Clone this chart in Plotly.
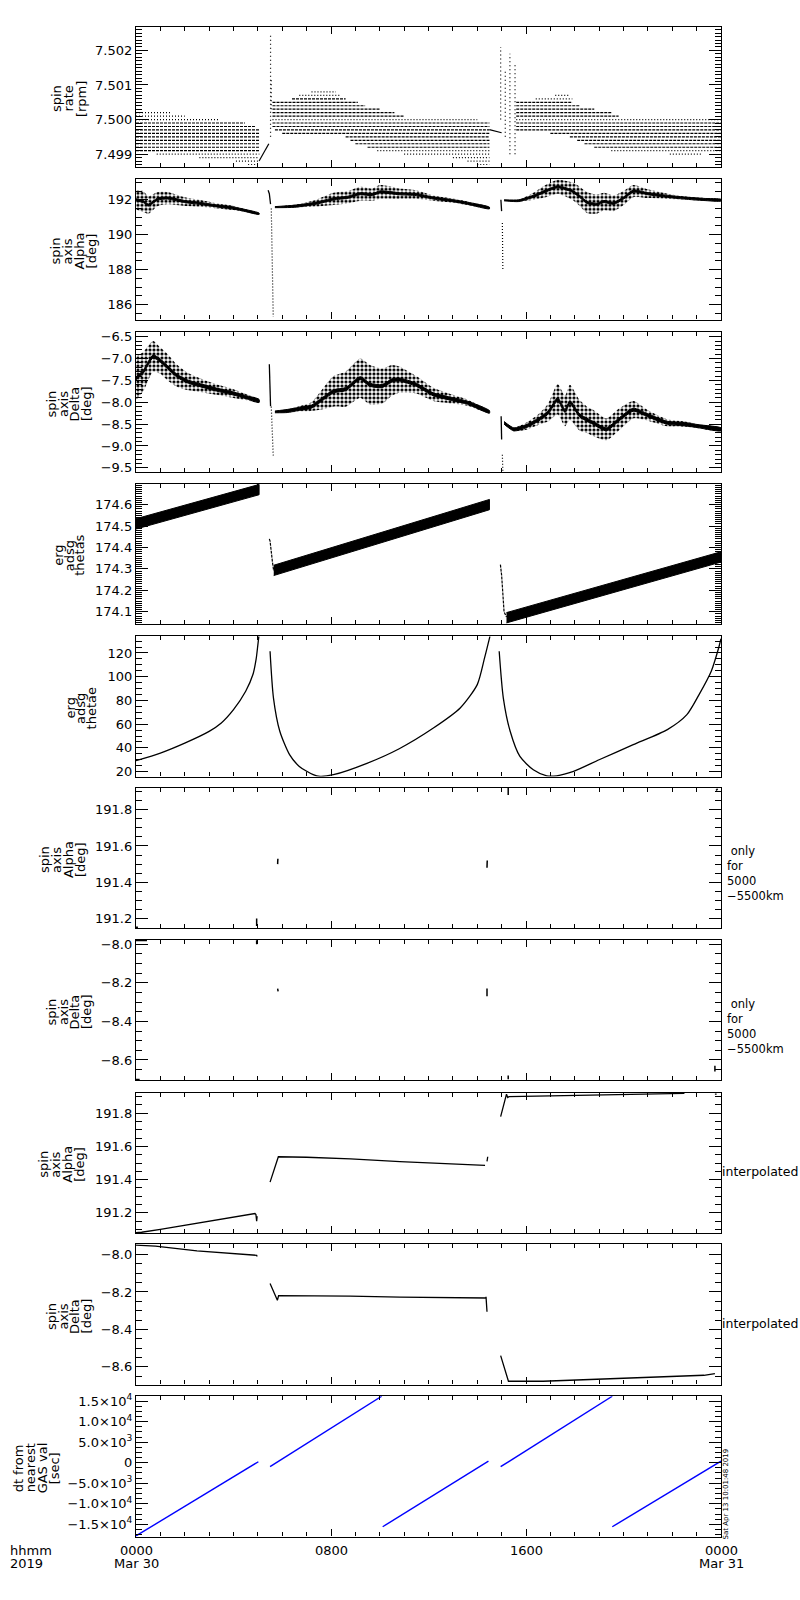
import plotly.graph_objects as go

# ======================= DATA =======================
# time axis in hours from 2019-03-30 00:00
# --- panel 1: spin rate [rpm], quantised rows: level, start, end, style (d dense / s sparse)
rate_lvl = [7.5002, 7.5001, 7.5000, 7.4999, 7.4998, 7.4997, 7.4996, 7.4995, 7.4994, 7.4993,
            7.4992, 7.4991, 7.4990, 7.4989, 7.4988, 7.4987,
            7.5008, 7.5007, 7.5006, 7.5005, 7.5004, 7.5003, 7.5002, 7.5001, 7.5000, 7.4999,
            7.4998, 7.4997, 7.4996, 7.4995, 7.4994, 7.4993, 7.4992, 7.4991, 7.4990, 7.4989,
            7.4988, 7.4987,
            7.5007, 7.5006, 7.5005, 7.5004, 7.5003, 7.5002, 7.5001, 7.5000, 7.4999, 7.4998,
            7.4997, 7.4996, 7.4995, 7.4994, 7.4993, 7.4992, 7.4991, 7.4990]
rate_t0 = [0.0, 0.0, 0.0, 0.0, 0.0, 0.0, 0.0, 0.0, 0.0, 0.0,
           0.0, 0.0, 0.85, 2.6, 4.1, 4.6,
           7.2, 6.7, 6.4, 5.6, 5.6, 5.6, 5.6, 5.6, 5.6, 5.6,
           5.6, 5.7, 6.0, 8.6, 8.8, 9.0, 9.5, 9.9, 11.0, 13.0,
           13.6, 14.0,
           17.2, 16.4, 15.6, 15.6, 15.6, 15.6, 15.6, 15.6, 15.6, 15.6,
           15.6, 17.0, 17.8, 18.1, 18.4, 18.8, 19.5, 21.9]
rate_t1 = [1.4, 2.0, 3.4, 4.47, 4.88, 5.06, 5.06, 5.06, 5.06, 5.06,
           5.06, 5.06, 5.06, 5.0, 5.0, 5.0,
           8.2, 8.4, 8.6, 9.1, 9.4, 10.0, 10.6, 11.0, 14.0, 14.5,
           14.5, 14.5, 14.5, 14.5, 14.5, 14.5, 14.5, 14.5, 14.5, 14.5,
           14.5, 14.5,
           17.8, 17.9, 17.9, 18.2, 18.8, 19.5, 19.8, 24.0, 24.0, 24.0,
           24.0, 24.0, 24.0, 24.0, 24.0, 24.0, 24.0, 23.2]
rate_sty = ["s", "s", "s", "d", "d", "d", "d", "d", "d", "d",
            "d", "d", "s", "s", "s", "s",
            "s", "s", "d", "d", "d", "d", "d", "d", "s", "d",
            "d", "d", "d", "d", "d", "d", "d", "s", "s", "s",
            "s", "s",
            "s", "s", "d", "d", "d", "d", "d", "s", "d", "d",
            "d", "d", "d", "d", "d", "d", "s", "s"]
# isolated dotted columns (spin-up spikes): time, low, high
rate_col_t = [5.52, 5.55, 14.96, 15.15, 15.34, 15.55]
rate_col_lo = [7.4995, 7.5003, 7.5000, 7.4995, 7.4990, 7.4990]
rate_col_hi = [7.5025, 7.5012, 7.5021, 7.5014, 7.5019, 7.5016]
# short solid connecting ramps
rate_ramp_t = [[5.05, 5.45], [14.5, 15.0]]
rate_ramp_v = [[7.4988, 7.4993], [7.49971, 7.49962]]

# --- panel 2: spin axis alpha [deg]: centre and scatter half-width per segment
alpha_t = [[0.0, 0.3, 0.5, 0.9, 1.3, 2.0, 2.6, 3.3, 4.0, 4.5, 5.05],
           [5.7, 6.5, 7.4, 8.1, 8.7, 9.2, 9.7, 10.0, 10.5, 10.8, 11.5, 12.2, 13.0, 13.6, 14.5],
           [15.1, 15.7, 16.3, 16.8, 17.3, 17.6, 17.9, 18.2, 18.5, 18.9, 19.2, 19.6, 20.0,
            20.4, 21.0, 21.8, 22.5, 23.3, 24.0]]
alpha_c = [[192.0, 191.9, 191.7, 192.05, 192.1, 191.9, 191.8, 191.65, 191.53, 191.38, 191.2],
           [191.58, 191.63, 191.81, 192.05, 192.15, 192.35, 192.3, 192.45, 192.4, 192.35,
            192.3, 192.1, 191.95, 191.8, 191.53],
           [191.97, 191.95, 192.2, 192.5, 192.75, 192.65, 192.5, 192.2, 191.85, 191.75,
            191.9, 191.8, 192.1, 192.5, 192.35, 192.2, 192.1, 192.02, 191.98]]
alpha_s = [[0.55, 0.6, 0.5, 0.4, 0.35, 0.25, 0.2, 0.15, 0.12, 0.08, 0.04],
           [0.03, 0.08, 0.2, 0.35, 0.35, 0.4, 0.35, 0.4, 0.35, 0.3, 0.25, 0.15, 0.12, 0.1, 0.05],
           [0.03, 0.05, 0.2, 0.35, 0.4, 0.45, 0.5, 0.55, 0.6, 0.55, 0.5, 0.45, 0.4, 0.35,
            0.25, 0.15, 0.1, 0.08, 0.05]]
alpha_jump_t = [[5.42, 5.47, 5.52], [14.97, 15.0]]
alpha_jump_v = [[192.55, 192.35, 191.75], [192.0, 191.35]]
alpha_drop_t = [[5.55, 5.63], [15.03, 15.05]]
alpha_drop_v = [[191.5, 185.3], [190.67, 188.0]]

# --- panel 3: spin axis delta [deg]
delta_t = [[0.0, 0.3, 0.7, 1.0, 1.3, 1.7, 2.1, 2.7, 3.3, 4.0, 4.5, 5.05],
           [5.7, 6.2, 6.7, 7.2, 7.55, 8.1, 8.6, 9.2, 9.6, 10.1, 10.5, 10.8, 11.5, 12.2, 13.0,
            13.6, 14.5],
           [15.1, 15.5, 16.0, 16.5, 16.9, 17.3, 17.6, 17.8, 18.2, 18.5, 18.75, 19.3, 19.8,
            20.4, 21.0, 21.8, 22.5, 23.1, 24.0]]
delta_c = [[-7.45, -7.3, -6.95, -7.05, -7.2, -7.4, -7.52, -7.62, -7.71, -7.8, -7.88, -7.97],
           [-8.22, -8.2, -8.15, -8.1, -7.97, -7.75, -7.7, -7.45, -7.6, -7.63, -7.5, -7.48,
            -7.6, -7.82, -7.93, -8.01, -8.22],
           [-8.47, -8.62, -8.55, -8.4, -8.24, -7.93, -8.2, -8.0, -8.3, -8.4, -8.47, -8.62,
            -8.4, -8.17, -8.3, -8.47, -8.5, -8.55, -8.62]]
delta_s = [[0.5, 0.45, 0.35, 0.3, 0.3, 0.25, 0.2, 0.15, 0.12, 0.1, 0.07, 0.04],
           [0.02, 0.04, 0.06, 0.1, 0.2, 0.35, 0.4, 0.45, 0.45, 0.4, 0.35, 0.3, 0.2, 0.15,
            0.1, 0.07, 0.03],
           [0.03, 0.04, 0.08, 0.12, 0.2, 0.35, 0.35, 0.4, 0.35, 0.3, 0.3, 0.25, 0.25, 0.2,
            0.12, 0.08, 0.06, 0.05, 0.04]]
delta_jump_t = [[5.47, 5.52], [14.98, 15.0]]
delta_jump_v = [[-7.13, -8.09], [-8.32, -8.85]]
delta_drop_t = [[5.55, 5.63], [15.03, 15.05]]
delta_drop_v = [[-8.1, -9.22], [-9.2, -9.57]]

# --- panel 4: erg adsg thetas (oscillating band): centre per segment, half-width
thetas_t = [[0.0, 5.05], [5.65, 14.5], [15.2, 24.0]]
thetas_c = [[174.51, 174.67], [174.293, 174.60], [174.072, 174.356]]
thetas_hw = 0.024
thetas_jump_t = [[5.47, 5.5, 5.6, 5.65], [14.95, 15.0, 15.1, 15.2]]
thetas_jump_v = [[174.44, 174.43, 174.33, 174.29], [174.32, 174.27, 174.1, 174.075]]

# --- panel 5: erg adsg thetae
thetae_t = [[0.0, 1.0, 2.0, 3.0, 3.5, 4.0, 4.5, 4.8, 4.93, 5.0, 5.04],
            [5.5, 5.64, 5.9, 6.3, 6.7, 7.27, 7.55, 8.1, 9.5, 10.8, 12.2, 13.3, 14.0, 14.3, 14.52],
            [14.9, 15.07, 15.35, 15.75, 16.3, 16.85, 17.26, 17.95, 19.0, 20.4, 21.8, 22.6,
             23.1, 23.6, 23.9, 24.0]]
thetae_v = [[29.2, 35.6, 44.0, 53.9, 61.0, 72.2, 87.7, 102.0, 115.0, 127.0, 134.0],
            [121.4, 82.0, 54.0, 34.3, 24.4, 17.4, 16.0, 17.4, 27.2, 39.3, 56.7, 73.6, 93.3,
             115.8, 134.0],
            [121.4, 82.0, 54.0, 32.8, 21.6, 16.5, 16.5, 20.2, 30.0, 42.7, 55.4, 68.0, 84.9,
             104.6, 124.0, 132.0]]

# --- panel 6: alpha only for 5000-5500 km (tiny fragments: t0, v0, t1, v1)
a55_t0 = [0.0, 4.95, 5.81, 14.40, 15.27, 23.80]
a55_v0 = [191.152, 191.16, 191.50, 191.48, 191.88, 191.905]
a55_t1 = [0.08, 4.95, 5.82, 14.41, 15.27, 23.86]
a55_v1 = [191.152, 191.20, 191.53, 191.52, 191.92, 191.915]

# --- panel 7: delta only for 5000-5500 km
d55_t0 = [0.0, 4.95, 5.81, 14.40, 15.27, 23.75, 0.0]
d55_v0 = [-7.981, -7.98, -8.23, -8.23, -8.68, -8.63, -8.701]
d55_t1 = [0.45, 4.95, 5.83, 14.40, 15.27, 23.75, 0.15]
d55_v1 = [-7.981, -8.00, -8.245, -8.27, -8.70, -8.66, -8.701]

# --- panel 8: alpha interpolated
ai_t = [[0.0, 0.23, 1.0, 2.0, 3.0, 4.0, 4.88, 4.92, 4.95, 4.97],
        [5.5, 5.84, 7.0, 8.8, 10.83, 13.0, 14.32],
        [14.40, 14.43],
        [14.96, 15.2, 15.25, 15.3, 17.0, 19.2, 22.5],
        [23.75, 23.82]]
ai_v = [[191.08, 191.083, 191.10, 191.125, 191.15, 191.175, 191.196, 191.19, 191.15, 191.18],
        [191.385, 191.538, 191.535, 191.525, 191.508, 191.495, 191.486],
        [191.51, 191.538],
        [191.78, 191.915, 191.895, 191.90, 191.905, 191.912, 191.92],
        [191.915, 191.915]]

# --- panel 9: delta interpolated
di_t = [[0.0, 0.8, 2.5, 4.95, 4.97],
        [5.5, 5.8, 5.85, 8.78, 10.83, 13.3, 14.36, 14.36, 14.4],
        [14.96, 15.28, 16.7, 18.35, 20.0, 21.6, 23.3, 23.75]]
di_v = [[-7.95, -7.955, -7.98, -8.004, -8.01],
        [-8.155, -8.244, -8.22, -8.222, -8.228, -8.232, -8.232, -8.226, -8.306],
        [-8.54, -8.677, -8.677, -8.668, -8.659, -8.654, -8.645, -8.636]]

# --- panel 10: dt from nearest GAS val [sec] (straight segments)
dt_t0 = [0.0, 5.5, 10.12, 14.96, 19.54]
dt_t1 = [5.02, 10.08, 14.46, 19.54, 24.0]
dt_v0 = [-17830, -970, -15600, -970, -15600]
dt_v1 = [240, 16200, 380, 16200, 380]

# tick labels
x_tickvals = [0, 8, 16, 24]
x_ticklab1 = ["0000", "0800", "1600", "0000"]
x_ticklab2 = ["Mar 30", "", "", "Mar 31"]
dt_tickvals = [15000, 10000, 5000, 0, -5000, -10000, -15000]
dt_ticktext = ["1.5×10<sup>4</sup>", "1.0×10<sup>4</sup>", "5.0×10<sup>3</sup>", "0",
               "−5.0×10<sup>3</sup>", "−1.0×10<sup>4</sup>", "−1.5×10<sup>4</sup>"]
panel_titles = [["spin", "rate", "[rpm]"],
                ["spin", "axis", "Alpha", "[deg]"],
                ["spin", "axis", "Delta", "[deg]"],
                ["erg", "adsg", "thetas"],
                ["erg", "adsg", "thetae"],
                ["spin", "axis", "Alpha", "[deg]"],
                ["spin", "axis", "Delta", "[deg]"],
                ["spin", "axis", "Alpha", "[deg]"],
                ["spin", "axis", "Delta", "[deg]"],
                ["dt from", "nearest", "GAS val", "[sec]"]]
right_notes = [None, None, None, None, None,
               [" only", "for", "5000", "−5500km"],
               [" only", "for", "5000", "−5500km"],
               ["interpolated"], ["interpolated"], None]

# ======================= LAYOUT CONSTANTS =======================
W, H = 800, 1600
X0, X1 = 136, 721
TOPS = [23, 176, 329.3, 481.7, 635, 787.3, 940, 1093.3, 1245.7, 1398.3]
PH = 141
FONT = "DejaVu Sans"
YR = [[7.49862, 7.50268], [185.13, 193.18], [-9.60, -6.39], [174.043, 174.698],
      [15.8, 134.1], [191.147, 191.92], [-8.705, -7.978], [191.079, 191.925],
      [-8.695, -7.945], [-17990, 16216]]
YT = [dict(tick0=7.499, dtick=0.001, tickformat=".3f", minor_dtick=0.0001),
      dict(tick0=186, dtick=2, tickformat="d", minor_dtick=0.5),
      dict(tick0=-9.5, dtick=0.5, tickformat=".1f", minor_dtick=0.1),
      dict(tick0=174.1, dtick=0.1, tickformat=".1f", minor_dtick=0.01),
      dict(tick0=20, dtick=20, tickformat="d", minor_dtick=5),
      dict(tick0=191.2, dtick=0.2, tickformat=".1f", minor_dtick=0.05),
      dict(tick0=-8.6, dtick=0.2, tickformat=".1f", minor_dtick=0.05),
      dict(tick0=191.2, dtick=0.2, tickformat=".1f", minor_dtick=0.05),
      dict(tick0=-8.6, dtick=0.2, tickformat=".1f", minor_dtick=0.05),
      dict(tickvals=dt_tickvals, ticktext=dt_ticktext, minor_dtick=1250)]
TITLE_RIGHT = [81, 91, 86, 80, 91, 80, 86, 80, 86, 54]
TITLE_STEP = [12.5, 12, 11.5, 10.5, 10.5, 12, 11.5, 12, 11.5, 12]

fig = go.Figure()


def sfx(i):
    return "" if i == 1 else str(i)


def add(i, **kw):
    kw.setdefault("showlegend", False)
    kw.setdefault("hoverinfo", "skip")
    fig.add_trace(go.Scatter(xaxis="x" + sfx(i), yaxis="y" + sfx(i), **kw))


def joined(ts, vs):
    xs, ys = [], []
    for t, v in zip(ts, vs):
        xs += list(t) + [None]
        ys += list(v) + [None]
    return xs, ys


# ---- panel 1
for sty, dash, w in [("d", "3px,1px", 1.2), ("s", "1px,2px", 1.2)]:
    xs, ys = [], []
    for l, a, b, s in zip(rate_lvl, rate_t0, rate_t1, rate_sty):
        if s == sty:
            xs += [a, b, None]
            ys += [l, l, None]
    add(1, x=xs, y=ys, mode="lines", line=dict(color="black", width=w, dash=dash))
xs, ys = [], []
for t, lo, hi in zip(rate_col_t, rate_col_lo, rate_col_hi):
    xs += [t, t, None]
    ys += [lo, hi, None]
add(1, x=xs, y=ys, mode="lines", line=dict(color="black", width=1.2, dash="1px,3px"))
xs, ys = joined(rate_ramp_t, rate_ramp_v)
add(1, x=xs, y=ys, mode="lines", line=dict(color="black", width=1.2))


# ---- panels 2 & 3: noisy bands
def noisy(i, T, C, S, jt, jv, dtt, dvv, core):
    for t, c, s in zip(T, C, S):
        up = [a + b for a, b in zip(c, s)]
        lo = [a - b for a, b in zip(c, s)]
        add(i, x=list(t) + list(t)[::-1], y=up + lo[::-1], mode="lines", fill="toself",
            line=dict(color="rgba(0,0,0,0)", width=0, shape="spline", smoothing=0.6),
            fillcolor="rgba(0,0,0,0)",
            fillpattern=dict(shape=".", fgcolor="black", bgcolor="rgba(0,0,0,0)",
                             fgopacity=1, size=4, solidity=0.5))
        cs = [min(x, core) for x in s]
        up2 = [a + b for a, b in zip(c, cs)]
        lo2 = [a - b for a, b in zip(c, cs)]
        add(i, x=list(t) + list(t)[::-1], y=up2 + lo2[::-1], mode="lines", fill="toself",
            line=dict(color="black", width=1, shape="spline", smoothing=0.6),
            fillcolor="black")
    xs, ys = joined(jt, jv)
    add(i, x=xs, y=ys, mode="lines", line=dict(color="black", width=1.3))
    xs, ys = joined(dtt, dvv)
    add(i, x=xs, y=ys, mode="lines", line=dict(color="black", width=1.2, dash="1px,2px"))


noisy(2, alpha_t, alpha_c, alpha_s, alpha_jump_t, alpha_jump_v, alpha_drop_t, alpha_drop_v, 0.06)
noisy(3, delta_t, delta_c, delta_s, delta_jump_t, delta_jump_v, delta_drop_t, delta_drop_v, 0.035)

# ---- panel 4
for t, c in zip(thetas_t, thetas_c):
    up = [v + thetas_hw for v in c]
    lo = [v - thetas_hw for v in c]
    add(4, x=list(t) + list(t)[::-1], y=up + lo[::-1], mode="lines", fill="toself",
        line=dict(color="black", width=1), fillcolor="black")
xs, ys = joined(thetas_jump_t, thetas_jump_v)
add(4, x=xs, y=ys, mode="lines", line=dict(color="black", width=1.2, dash="3px,1px"))

# ---- panel 5
xs, ys = joined(thetae_t, thetae_v)
add(5, x=xs, y=ys, mode="lines",
    line=dict(color="black", width=1.3, shape="spline", smoothing=0.7))

# ---- panels 6 & 7
for i, (a, b, c, d) in [(6, (a55_t0, a55_v0, a55_t1, a55_v1)),
                        (7, (d55_t0, d55_v0, d55_t1, d55_v1))]:
    xs, ys = [], []
    for t0, v0, t1, v1 in zip(a, b, c, d):
        xs += [t0, t1, None]
        ys += [v0, v1, None]
    add(i, x=xs, y=ys, mode="lines", line=dict(color="black", width=1.5))

# ---- panels 8 & 9
xs, ys = joined(ai_t, ai_v)
add(8, x=xs, y=ys, mode="lines", line=dict(color="black", width=1.3))
xs, ys = joined(di_t, di_v)
add(9, x=xs, y=ys, mode="lines", line=dict(color="black", width=1.3))

# ---- panel 10
xs, ys = [], []
for a, b, c, d in zip(dt_t0, dt_t1, dt_v0, dt_v1):
    xs += [a, b, None]
    ys += [c, d, None]
add(10, x=xs, y=ys, mode="lines", line=dict(color="#0000ff", width=1.4))

# ---- axes
layout = dict(width=W, height=H, margin=dict(l=0, r=0, t=0, b=0),
              paper_bgcolor="white", plot_bgcolor="white",
              font=dict(family=FONT, size=13, color="black"))
for k in range(10):
    i = k + 1
    s = sfx(i)
    top = TOPS[k]
    bot = top + PH
    common = dict(showline=True, linecolor="black", linewidth=1.3, mirror="ticks",
                  ticks="inside", tickcolor="black", tickwidth=1, showgrid=False,
                  zeroline=False)
    layout["xaxis" + s] = dict(common, domain=[X0 / W, X1 / W], anchor="y" + s,
                               range=[0, 24], tick0=0, dtick=8, ticklen=7,
                               showticklabels=False,
                               minor=dict(dtick=1, ticklen=4, ticks="inside",
                                          tickcolor="black", showgrid=False))
    yt = dict(YT[k])
    mdt = yt.pop("minor_dtick")
    if "tickvals" in yt:
        yt["tickmode"] = "array"
    layout["yaxis" + s] = dict(common, domain=[1 - bot / H, 1 - top / H], anchor="x" + s,
                               range=YR[k], ticklen=12,
                               tickfont=dict(family=FONT, size=13, color="black"),
                               minor=dict(dtick=mdt, tick0=YT[k].get("tick0", 0),
                                          ticklen=6, ticks="inside",
                                          tickcolor="black", showgrid=False),
                               **yt)

anns = []
for k in range(10):
    yc = TOPS[k] + PH / 2 + 2
    lines = panel_titles[k]
    n = len(lines)
    for j, txt in enumerate(lines):
        xc = TITLE_RIGHT[k] - (n - 1 - j) * TITLE_STEP[k]
        anns.append(dict(text=txt, x=xc / W, y=1 - yc / H, xref="paper", yref="paper",
                         textangle=-90, showarrow=False, xanchor="center", yanchor="middle",
                         font=dict(family=FONT, size=13, color="black")))
    notes = right_notes[k]
    if notes:
        if len(notes) == 1:
            anns.append(dict(text=notes[0], x=720 / W, y=1 - (yc + 7) / H, xref="paper",
                             yref="paper", showarrow=False, xanchor="left",
                             yanchor="middle",
                             font=dict(family=FONT, size=12.5, color="black")))
        else:
            anns.append(dict(text="<br>".join(notes), x=725 / W, y=1 - (yc + 14) / H,
                             xref="paper", yref="paper", showarrow=False, xanchor="left",
                             yanchor="middle", align="left",
                             font=dict(family=FONT, size=11.5, color="black")))

# bottom time labels
for v, l1, l2 in zip(x_tickvals, x_ticklab1, x_ticklab2):
    anns.append(dict(text=l1, x=v, y=1 - 1553 / H, xref="x10", yref="paper", showarrow=False,
                     xanchor="center", yanchor="middle",
                     font=dict(family=FONT, size=13, color="black")))
    if l2:
        anns.append(dict(text=l2, x=v, y=1 - 1566 / H, xref="x10", yref="paper",
                         showarrow=False, xanchor="center", yanchor="middle",
                         font=dict(family=FONT, size=13, color="black")))
anns.append(dict(text="hhmm", x=8 / W, y=1 - 1553 / H, xref="paper", yref="paper",
                 showarrow=False, xanchor="left", yanchor="middle",
                 font=dict(family=FONT, size=13, color="black")))
anns.append(dict(text="2019", x=8 / W, y=1 - 1566 / H, xref="paper", yref="paper",
                 showarrow=False, xanchor="left", yanchor="middle",
                 font=dict(family=FONT, size=13, color="black")))
anns.append(dict(text="Sat Apr 13 10:01:48 2019", x=726 / W, y=1 - 1497 / H, xref="paper",
                 yref="paper", showarrow=False, textangle=-90, xanchor="center",
                 yanchor="middle", font=dict(family=FONT, size=7, color="black")))
layout["annotations"] = anns
fig.update_layout(**layout)
fig.write_html("out.html", config={"displayModeBar": False},
               post_script="document.body.style.margin='0';"
                           "document.body.style.overflow='hidden';")
